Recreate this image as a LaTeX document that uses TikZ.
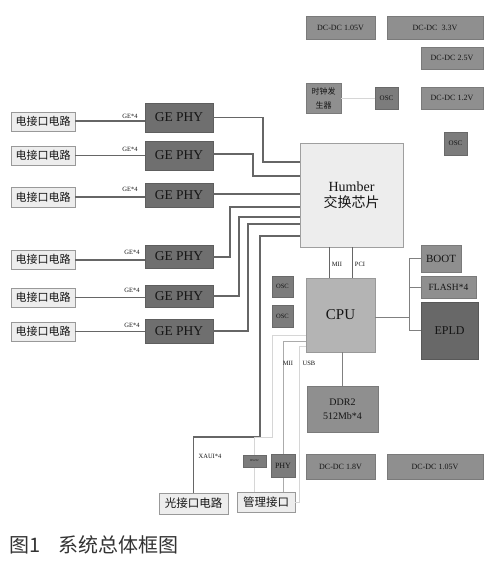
\documentclass[tikz,border=0pt]{standalone}
\usepackage{fontspec}
\setmainfont{Liberation Serif}
\newfontfamily\cjk{Noto Sans CJK SC}
\usetikzlibrary{shadows}
\definecolor{lnc}{HTML}{666666}
\definecolor{lightln}{HTML}{D6D6D6}
\definecolor{midln}{HTML}{ABABAB}
\definecolor{dcgray}{HTML}{8F8F8F}
\definecolor{phygray}{HTML}{6F6F6F}
\definecolor{oscgray}{HTML}{7C7C7C}
\definecolor{cpugray}{HTML}{B4B4B4}
\definecolor{hubfill}{HTML}{EDEDED}
\definecolor{epldgray}{HTML}{686868}
\definecolor{txt}{HTML}{151515}
\definecolor{capc}{HTML}{333333}
\newcommand{\fs}[1]{\fontsize{#1}{#1}\selectfont}
\newcommand{\bx}[7]{\node[#6, minimum width={(#4-#2)*1pt}, minimum height={(#5-#3)*1pt}] (#1) at ({(#2+#4)/2},{(#3+#5)/2}) {#7};}
\tikzset{
  gbox/.style={fill=#1, draw=#1!85!black, line width=0.4pt, inner sep=0pt, text=txt, align=center},
  wbox/.style={fill=hubfill, draw=gray!80, line width=0.5pt, inner sep=0pt, text=txt, align=center,
     drop shadow={shadow xshift=0.8pt, shadow yshift=-0.8pt, fill=gray!70, opacity=0.8}},
  conn/.style={draw=lnc, line width=1.2pt},
  thin conn/.style={draw=gray, line width=0.7pt},
  lconn/.style={draw=lightln, line width=0.8pt},
  mconn/.style={draw=midln, line width=0.9pt},
  lbl/.style={inner sep=0pt, text=txt, font=\fs{6.5}},
}
\begin{document}
\begin{tikzpicture}[x=1pt,y=-1pt]
\useasboundingbox[fill=white] (0,0) rectangle (486,561);
% power and clock boxes
\bx{dca}{306}{16}{375}{39}{gbox=dcgray}{\fs{8}DC-DC 1.05V}
\bx{dcb}{387}{16}{483}{39}{gbox=dcgray}{\fs{8}DC-DC\ \ 3.3V}
\bx{dcc}{421}{47}{483}{69}{gbox=dcgray}{\fs{8}DC-DC 2.5V}
\bx{clk}{306}{83}{341}{113}{gbox=dcgray}{\cjk\fs{8}时钟发\\[2pt]\cjk\fs{8}生器}
\bx{osca}{375}{87}{398}{109}{gbox=oscgray}{\fs{7}OSC}
\bx{dcd}{421}{87}{483}{109}{gbox=dcgray}{\fs{8}DC-DC 1.2V}
\bx{oscb}{444}{132}{467}{155}{gbox=oscgray}{\fs{7}OSC}
\draw[lconn] (clk.east) -- (osca.west);
% switch chip
\bx{hub}{300}{143}{403}{247}{fill=hubfill, draw=gray!75, line width=0.6pt, inner sep=0pt, text=txt, align=center}{\fs{14}Humber\\[3pt]\cjk\fs{14}交换芯片}
% electrical interface circuits
\bx{ela}{11}{112}{75}{131}{wbox}{\cjk\fs{11}电接口电路}
\bx{elb}{11}{146}{75}{165}{wbox}{\cjk\fs{11}电接口电路}
\bx{elc}{11}{187}{75}{207}{wbox}{\cjk\fs{11}电接口电路}
\bx{eld}{11}{250}{75}{269}{wbox}{\cjk\fs{11}电接口电路}
\bx{ele}{11}{288}{75}{307}{wbox}{\cjk\fs{11}电接口电路}
\bx{elf}{11}{322}{75}{341}{wbox}{\cjk\fs{11}电接口电路}
% GE PHY
\bx{pha}{145}{103}{213}{132}{gbox=phygray}{\fs{13.5}GE PHY}
\bx{phb}{145}{141}{213}{170}{gbox=phygray}{\fs{13.5}GE PHY}
\bx{phc}{145}{183}{213}{207}{gbox=phygray}{\fs{13.5}GE PHY}
\bx{phd}{145}{245}{213}{268}{gbox=phygray}{\fs{13.5}GE PHY}
\bx{phe}{145}{285}{213}{307}{gbox=phygray}{\fs{13.5}GE PHY}
\bx{phf}{145}{319}{213}{343}{gbox=phygray}{\fs{13.5}GE PHY}
% circuit -> PHY
\draw[conn] (75,121) -- (pha.west|-0,121);
\draw[conn] (elb.east) -- (elb.east-|phb.west);
\draw[conn] (elc.east) -- (elc.east-|phc.west);
\draw[conn] (75,260) -- (phd.west|-0,260);
\draw[conn] (ele.east) -- (ele.east-|phe.west);
\draw[conn] (elf.east) -- (elf.east-|phf.west);
\node[lbl] (ga) at (130,116) {GE*4};
\node[lbl] (gb) at (130,149) {GE*4};
\node[lbl] (gc) at (130,189) {GE*4};
\node[lbl] (gd) at (132,252) {GE*4};
\node[lbl] (ge) at (132,290) {GE*4};
\node[lbl] (gf) at (132,325) {GE*4};
% PHY -> switch
\draw[conn] (pha.east) -| (263,162) -- (hub.west|-0,162);
\draw[conn] (213,154) -| (253,176) -- (hub.west|-0,176);
\draw[conn] (213,194) -- (hub.west|-0,194);
\draw[conn] (213,257) -| (230,207) -- (hub.west|-0,207);
\draw[conn] (phe.east) -| (239,217) -- (hub.west|-0,217);
\draw[conn] (phf.east) -| (248,224) -- (hub.west|-0,224);
% CPU area
\bx{oscc}{272}{276}{293}{297}{gbox=oscgray}{\fs{6.5}OSC}
\bx{oscd}{272}{305}{293}{327}{gbox=oscgray}{\fs{6.5}OSC}
\bx{cpu}{306}{278}{375}{352}{gbox=cpugray}{\fs{15}CPU}
\draw[thin conn, draw=lnc] (hub.south-|329,0) -- (cpu.north-|329,0);
\draw[thin conn, draw=lnc] (hub.south-|352,0) -- (cpu.north-|352,0);
\node[lbl] (mii1) at (337,264) {MII};
\node[lbl] (pci) at (360,264) {PCI};
\bx{boot}{421}{245}{461}{272}{gbox=dcgray}{\fs{11}BOOT}
\bx{flash}{421}{276}{476}{298}{gbox=dcgray}{\fs{9.5}FLASH*4}
\bx{epld}{421}{302}{478}{359}{gbox=epldgray}{\fs{12}EPLD}
\coordinate (bus) at (409,317);
\draw[thin conn] (cpu.east|-bus) -- (bus);
\draw[thin conn] (boot.west) -| (bus);
\draw[thin conn] (epld.west) -| (bus);
\draw[thin conn] (flash.west) -- (flash.west-|bus);
\bx{ddr}{307}{386}{378}{432}{gbox=dcgray}{\fs{10}DDR2\\[2pt]\fs{10}512Mb*4}
\draw[thin conn] (ddr.north) -- (ddr.north|-cpu.south);
% bottom boxes
\bx{opt}{159}{493}{228}{514}{wbox}{\cjk\fs{11.5}光接口电路}
\bx{mgmt}{237}{492}{295}{512}{wbox}{\cjk\fs{11.5}管理接口}
% XAUI
\draw[conn] (hub.west|-0,236) -- (260,236) -- (260,437) -| (opt.north);
\node[lbl] (xaui) at (210,456) {XAUI*4};
% management lines
\draw[lconn] (cpu.west|-0,335) -- (272,335) -- (272,437) -| (254.5,455);
\draw[lconn] (254.5,467) -- (mgmt.north-|254.5,0);
\draw[mconn] (cpu.west|-0,341) -| (283,454);
\draw[mconn] (283,477) -- (mgmt.north-|283,0);
\draw[lconn] (cpu.west|-0,346) -- (299,346) -- (299,502) -- (mgmt.east|-0,502);
\bx{rs}{243}{455}{266}{467}{gbox=oscgray}{\fs{3}RS232}
\bx{phy}{271}{454}{295}{477}{gbox=oscgray}{\fs{8}PHY}
\node[lbl] (mii2) at (288,363) {MII};
\node[lbl] (usb) at (309,363) {USB};
\bx{dce}{306}{454}{375}{479}{gbox=dcgray}{\fs{8}DC-DC 1.8V}
\bx{dcf}{387}{454}{483}{479}{gbox=dcgray}{\fs{8}DC-DC 1.05V}
% caption
\node[anchor=west, inner sep=0pt, text=capc] (cap) at (9,545) {\cjk\fs{20}图1\hspace{18pt}系统总体框图};
\end{tikzpicture}
\end{document}
